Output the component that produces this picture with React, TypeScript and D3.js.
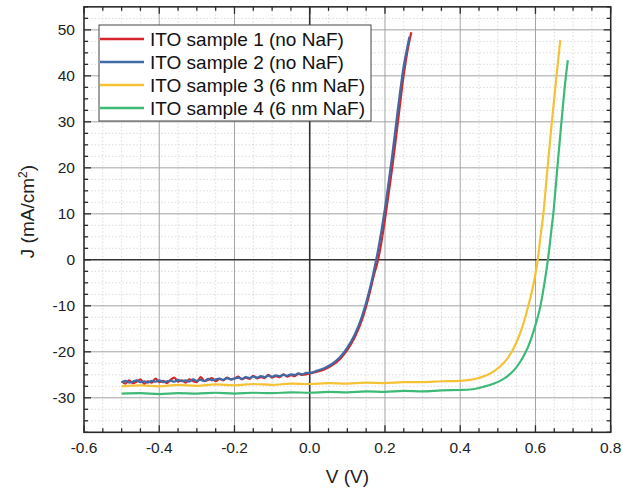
import React from "react";
import * as d3 from "d3";

const seriesNames = [
  "ITO sample 1 (no NaF)",
  "ITO sample 2 (no NaF)",
  "ITO sample 3 (6 nm NaF)",
  "ITO sample 4 (6 nm NaF)",
];
const seriesColors = ["#d4262b", "#3e6aa6", "#f5c236", "#3dba76"];

const xTicks = [-0.6, -0.4, -0.2, 0.0, 0.2, 0.4, 0.6, 0.8];
const yTicks = [-30, -20, -10, 0, 10, 20, 30, 40, 50];

// flat region voltages for samples 1 & 2 (-0.50 .. 0.00 step 0.01)
const flatV = [
  -0.5, -0.49, -0.48, -0.47, -0.46, -0.45, -0.44, -0.43, -0.42, -0.41,
  -0.4, -0.39, -0.38, -0.37, -0.36, -0.35, -0.34, -0.33, -0.32, -0.31,
  -0.3, -0.29, -0.28, -0.27, -0.26, -0.25, -0.24, -0.23, -0.22, -0.21,
  -0.2, -0.19, -0.18, -0.17, -0.16, -0.15, -0.14, -0.13, -0.12, -0.11,
  -0.1, -0.09, -0.08, -0.07, -0.06, -0.05, -0.04, -0.03, -0.02, -0.01, 0.0,
];
const s1FlatJ = [
  -26.4, -26.9, -26.2, -26.8, -26.5, -26.0, -26.9, -26.4, -26.7, -25.8,
  -26.6, -26.3, -26.8, -26.1, -25.6, -26.5, -26.2, -26.7, -26.0, -26.4,
  -26.6, -25.5, -26.3, -26.1, -25.7, -26.4, -25.9, -26.2, -25.6, -26.0,
  -25.8, -25.4, -26.0, -25.6, -25.9, -25.2, -25.8, -25.5, -25.7, -25.0,
  -25.6, -25.3, -25.5, -24.9, -25.4, -25.1, -25.3, -24.8, -25.0, -24.9, -24.7,
];
const s2FlatJ = [
  -26.6, -26.3, -26.7, -26.5, -26.2, -26.6, -26.4, -26.7, -26.3, -26.5,
  -26.2, -26.6, -26.4, -26.3, -26.5, -26.1, -26.4, -26.2, -26.5, -26.0,
  -26.3, -26.1, -26.4, -25.9, -26.2, -26.0, -25.8, -26.1, -25.7, -26.0,
  -25.8, -25.6, -25.9, -25.5, -25.7, -25.4, -25.6, -25.3, -25.5, -25.2,
  -25.4, -25.1, -25.3, -25.0, -25.2, -24.9, -25.0, -24.7, -24.9, -24.6, -24.6,
];
const s1RiseV = [0.02, 0.04, 0.06, 0.08, 0.1, 0.12, 0.14, 0.16, 0.17, 0.18, 0.19, 0.2, 0.21, 0.22, 0.23, 0.24, 0.25, 0.26, 0.27];
const s1RiseJ = [-24.3, -23.8, -22.9, -21.6, -19.6, -16.8, -12.8, -7.0, -3.5, -0.6, 3.6, 8.8, 14.5, 20.5, 27.0, 33.8, 40.3, 45.5, 49.5];
const s2RiseV = [0.02, 0.04, 0.06, 0.08, 0.1, 0.12, 0.14, 0.16, 0.17, 0.18, 0.19, 0.2, 0.21, 0.22, 0.23, 0.24, 0.25, 0.26, 0.265];
const s2RiseJ = [-24.1, -23.5, -22.6, -21.2, -19.1, -16.2, -12.0, -6.2, -2.6, 1.4, 6.0, 11.2, 17.0, 23.2, 29.8, 36.4, 42.2, 46.5, 48.5];

const s3V = [-0.5, -0.45, -0.4, -0.35, -0.3, -0.25, -0.2, -0.15, -0.1, -0.05, 0.0, 0.05, 0.1, 0.15, 0.2, 0.25, 0.3, 0.35, 0.4, 0.426, 0.444, 0.46, 0.48, 0.5, 0.515, 0.537, 0.548, 0.559, 0.57, 0.581, 0.595, 0.606, 0.613, 0.621, 0.631, 0.643, 0.656, 0.666];
const s3J = [-27.5, -27.3, -27.5, -27.2, -27.4, -27.1, -27.3, -27.0, -27.2, -26.9, -27.0, -26.8, -26.9, -26.7, -26.8, -26.6, -26.6, -26.4, -26.3, -26.1, -25.8, -25.4, -24.7, -23.6, -22.5, -20.0, -18.2, -16.0, -13.3, -10.0, -5.2, 0.0, 4.8, 10.0, 19.0, 29.5, 40.0, 47.8];

const s4V = [-0.5, -0.45, -0.4, -0.35, -0.3, -0.25, -0.2, -0.15, -0.1, -0.05, 0.0, 0.05, 0.1, 0.15, 0.2, 0.25, 0.3, 0.35, 0.4, 0.427, 0.462, 0.49, 0.511, 0.53, 0.546, 0.56, 0.573, 0.582, 0.59, 0.6, 0.612, 0.624, 0.633, 0.641, 0.648, 0.656, 0.668, 0.681, 0.686];
const s4J = [-29.1, -29.0, -29.2, -29.0, -29.1, -28.9, -29.1, -28.9, -29.0, -28.8, -28.9, -28.7, -28.8, -28.6, -28.7, -28.5, -28.6, -28.4, -28.3, -28.2, -27.6, -26.9, -26.1, -25.0, -23.7, -22.1, -20.2, -18.6, -16.8, -14.2, -10.5, -5.0, 0.0, 5.5, 10.5, 18.0, 29.0, 40.0, 43.4];

const W = 623;
const H = 495;
const M = { left: 84, right: 623 - 610.7, top: 6.85, bottom: 495 - 432.3 };

export default function App() {
  const x = d3.scaleLinear().domain([-0.6, 0.8]).range([M.left, W - M.right]);
  const y = d3.scaleLinear().domain([-37.5, 55]).range([H - M.bottom, M.top]);

  const zip = (vs: number[], js: number[]) => vs.map((v, i) => [v, js[i]] as [number, number]);
  const series = [
    zip(flatV, s1FlatJ).concat(zip(s1RiseV, s1RiseJ)),
    zip(flatV, s2FlatJ).concat(zip(s2RiseV, s2RiseJ)),
    zip(s3V, s3J),
    zip(s4V, s4J),
  ];
  const line = d3
    .line<[number, number]>()
    .x((d) => x(d[0]))
    .y((d) => y(d[1]))
    .curve(d3.curveMonotoneX);

  const xMinor = d3.range(-0.6, 0.8001, 0.05).map((v) => Math.round(v * 100) / 100);
  const yMinor = d3.range(-37.5, 55.001, 2.5).map((v) => Math.round(v * 10) / 10);
  const isMajX = (v: number) => xTicks.some((t) => Math.abs(t - v) < 1e-6);
  const isMajY = (v: number) => yTicks.some((t) => Math.abs(t - v) < 1e-6);

  const x0 = x.range()[0], x1 = x.range()[1], y0 = y.range()[0], y1 = y.range()[1];
  const font = "Arial, 'Liberation Sans', sans-serif";
  const axisColor = "#2b2b2b";
  const fmtX = (v: number) => v.toFixed(1);

  // legend layout
  const lg = { x: 99, y: 25, w: 272, h: 96, rowDy: 23 };

  return (
    <svg width={W} height={H} style={{ position: "absolute", left: 0, top: 0, background: "#fff" }} fontFamily={font}>
      <rect x={0} y={0} width={W} height={H} fill="#fff" />
      {/* minor grid */}
      {xMinor.filter((v) => !isMajX(v) && v > -0.6 && v < 0.8).map((v) => (
        <line key={"xm" + v} x1={x(v)} x2={x(v)} y1={y0} y2={y1} stroke="#d2d2d2" strokeWidth={0.8} strokeDasharray="1.5,2" />
      ))}
      {yMinor.filter((v) => !isMajY(v) && v > -37.5 && v < 55).map((v) => (
        <line key={"ym" + v} x1={x0} x2={x1} y1={y(v)} y2={y(v)} stroke="#d2d2d2" strokeWidth={0.8} strokeDasharray="1.5,2" />
      ))}
      {/* major grid */}
      {xTicks.filter((v) => v !== 0 && v > -0.6 && v < 0.8).map((v) => (
        <line key={"xg" + v} x1={x(v)} x2={x(v)} y1={y0} y2={y1} stroke="#a3a3a3" strokeWidth={1} />
      ))}
      {yTicks.filter((v) => v !== 0).map((v) => (
        <line key={"yg" + v} x1={x0} x2={x1} y1={y(v)} y2={y(v)} stroke="#a3a3a3" strokeWidth={1} />
      ))}
      {/* zero lines */}
      <line x1={x(0)} x2={x(0)} y1={y0} y2={y1} stroke="#333" strokeWidth={1.6} />
      <line x1={x0} x2={x1} y1={y(0)} y2={y(0)} stroke="#333" strokeWidth={1.6} />

      {/* curves */}
      {[3, 2, 0, 1].map((i) => (
        <path key={"s" + i} d={line(series[i]) || ""} fill="none" stroke={seriesColors[i]} strokeWidth={2.2} strokeLinejoin="round" />
      ))}

      {/* ticks */}
      {xMinor.map((v) => {
        const L = isMajX(v) ? 7 : 4;
        return (
          <g key={"xt" + v}>
            <line x1={x(v)} x2={x(v)} y1={y0} y2={y0 - L} stroke={axisColor} strokeWidth={1.3} />
            <line x1={x(v)} x2={x(v)} y1={y1} y2={y1 + L} stroke={axisColor} strokeWidth={1.3} />
          </g>
        );
      })}
      {yMinor.map((v) => {
        const L = isMajY(v) ? 7 : 4;
        return (
          <g key={"yt" + v}>
            <line x1={x0} x2={x0 + L} y1={y(v)} y2={y(v)} stroke={axisColor} strokeWidth={1.3} />
            <line x1={x1} x2={x1 - L} y1={y(v)} y2={y(v)} stroke={axisColor} strokeWidth={1.3} />
          </g>
        );
      })}
      {/* frame */}
      <rect x={x0} y={y1} width={x1 - x0} height={y0 - y1} fill="none" stroke={axisColor} strokeWidth={1.6} />

      {/* tick labels */}
      {xTicks.map((v) => (
        <text key={"xl" + v} x={x(v)} y={y0 + 21} textAnchor="middle" fontSize={15.5} fill="#222">
          {fmtX(v)}
        </text>
      ))}
      {yTicks.map((v) => (
        <text key={"yl" + v} x={x0 - 9} y={y(v) + 5.5} textAnchor="end" fontSize={15.5} fill="#222">
          {String(v)}
        </text>
      ))}
      {/* axis titles */}
      <text x={(x0 + x1) / 2} y={483} textAnchor="middle" fontSize={19} fill="#222">
        V (V)
      </text>
      <text transform={`translate(34, ${(y0 + y1) / 2 - 8}) rotate(-90)`} textAnchor="middle" fontSize={19} fill="#222">
        J (mA/cm<tspan baselineShift="super" fontSize={12}>2</tspan>)
      </text>

      {/* legend */}
      <rect x={lg.x} y={lg.y} width={lg.w} height={lg.h} fill="#fff" stroke="#444" strokeWidth={1} />
      {seriesNames.map((n, i) => (
        <g key={"lg" + i}>
          <line x1={lg.x + 1} x2={lg.x + 45} y1={lg.y + 14 + i * lg.rowDy} y2={lg.y + 14 + i * lg.rowDy} stroke={seriesColors[i]} strokeWidth={2.6} />
          <text x={lg.x + 51} y={lg.y + 14 + i * lg.rowDy + 6.8} fontSize={19} fill="#111">
            {n}
          </text>
        </g>
      ))}
    </svg>
  );
}
